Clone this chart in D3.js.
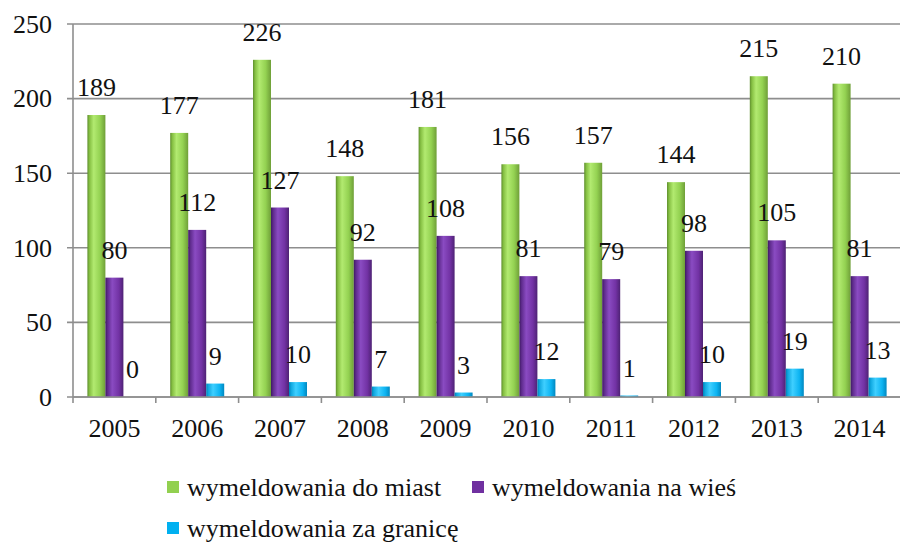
<!DOCTYPE html>
<html>
<head>
<meta charset="utf-8">
<script src="https://cdn.jsdelivr.net/npm/d3@7/dist/d3.min.js"></script>
<style>
  html, body { margin: 0; padding: 0; background: #fff; }
  svg { display: block; }
</style>
</head>
<body>
<svg id="chart" width="900" height="544"></svg>
<script>
const years = ["2005","2006","2007","2008","2009","2010","2011","2012","2013","2014"];
const legendLabels = ["wymeldowania do miast", "wymeldowania na wieś", "wymeldowania za granicę"];
const miasta = [189, 177, 226, 148, 181, 156, 157, 144, 215, 210];
const wies = [80, 112, 127, 92, 108, 81, 79, 98, 105, 81];
const granica = [0, 9, 10, 7, 3, 12, 1, 10, 19, 13];
const yTicks = [0, 50, 100, 150, 200, 250];

const seriesValues = [miasta, wies, granica];
const svg = d3.select("#chart");
const pLeft = 73, pRight = 901, pTop = 24, pBottom = 397;
const FONT = "Times New Roman, Times, Liberation Serif, Tinos, Noto Serif, DejaVu Serif, serif";

const x0 = d3.scaleBand().domain(years).range([pLeft, pRight]).paddingInner(0).paddingOuter(0);
const x1 = d3.scaleBand().domain(d3.range(3)).range([0, x0.bandwidth()]).paddingInner(0).paddingOuter(0.8);
const y = d3.scaleLinear().domain([0, 250]).range([pBottom, pTop]);

// gradients
const defs = svg.append("defs");
const grads = [
  [["0%", "#5f8f2e"], ["12%", "#86c043"], ["35%", "#b2ea70"], ["70%", "#94d252"], ["100%", "#6f9f38"]],
  [["0%", "#3f1a62"], ["12%", "#5e2b8c"], ["38%", "#8a4bc2"], ["75%", "#7232a4"], ["100%", "#4e2274"]],
  [["0%", "#0083b8"], ["12%", "#10a8e0"], ["38%", "#3fcfff"], ["75%", "#0db4f2"], ["100%", "#0088c0"]]
];
grads.forEach((stops, i) => {
  const g = defs.append("linearGradient").attr("id", "g" + i)
    .attr("x1", "0%").attr("x2", "100%").attr("y1", "0%").attr("y2", "0%");
  stops.forEach(s => g.append("stop").attr("offset", s[0]).attr("stop-color", s[1]));
});
const legendColors = ["#92d050", "#7030a0", "#00b0f0"];

// gridlines
svg.append("g").selectAll("line").data(yTicks).join("line")
  .attr("x1", pLeft - 6).attr("x2", 900)
  .attr("y1", d => y(d)).attr("y2", d => y(d))
  .attr("stroke", "#8e8e8e").attr("stroke-width", 1.6);

// y axis line
svg.append("line").attr("x1", pLeft).attr("x2", pLeft).attr("y1", y(250)).attr("y2", y(0))
  .attr("stroke", "#8e8e8e").attr("stroke-width", 1.6);

// y tick labels
svg.append("g").selectAll("text").data(yTicks).join("text")
  .attr("x", 52).attr("y", d => y(d)).attr("dy", "0.34em")
  .style("font-family", FONT).attr("fill", "#111")
  .attr("text-anchor", "end").attr("font-size", 26).text(d => d);

// bars
const groups = svg.append("g").selectAll("g").data(years).join("g")
  .attr("transform", d => `translate(${x0(d)},0)`);
groups.selectAll("rect").data((d, i) => seriesValues.map((s, k) => ({k, v: s[i]}))).join("rect")
  .attr("x", d => x1(d.k)).attr("width", x1.bandwidth())
  .attr("y", d => y(d.v)).attr("height", d => y(0) - y(d.v))
  .attr("fill", d => `url(#g${d.k})`);
groups.selectAll("text").data((d, i) => seriesValues.map((s, k) => ({k, v: s[i]}))).join("text")
  .attr("x", d => x1(d.k) + x1.bandwidth() / 2).attr("y", d => y(d.v) - 19)
  .style("font-family", FONT).attr("fill", "#111")
  .attr("text-anchor", "middle").attr("font-size", 26).text(d => d.v);

// x axis baseline and ticks
svg.append("line").attr("x1", pLeft).attr("x2", 900).attr("y1", y(0)).attr("y2", y(0))
  .attr("stroke", "#8e8e8e").attr("stroke-width", 1.6);
const boundaries = years.map(d => x0(d)).concat([pRight]);
svg.append("g").selectAll("line").data(boundaries).join("line")
  .attr("x1", d => d).attr("x2", d => d).attr("y1", y(0)).attr("y2", y(0) + 6)
  .attr("stroke", "#8e8e8e").attr("stroke-width", 1.6);
svg.append("g").selectAll("text").data(years).join("text")
  .attr("x", d => x0(d) + x0.bandwidth() / 2).attr("y", 437)
  .style("font-family", FONT).attr("fill", "#111")
  .attr("text-anchor", "middle").attr("font-size", 26).text(d => d);

// legend
const legendPos = [[167, 496], [472, 496], [167, 537]];
const leg = svg.append("g").selectAll("g").data(legendLabels).join("g")
  .attr("transform", (d, i) => `translate(${legendPos[i][0]},${legendPos[i][1]})`);
leg.append("rect").attr("x", 0).attr("y", -15).attr("width", 12).attr("height", 12)
  .attr("fill", (d, i) => legendColors[i]);
leg.append("text").attr("x", 20).attr("y", 0)
  .style("font-family", FONT).attr("fill", "#111")
  .attr("font-size", 26).text(d => d);
</script>
</body>
</html>
